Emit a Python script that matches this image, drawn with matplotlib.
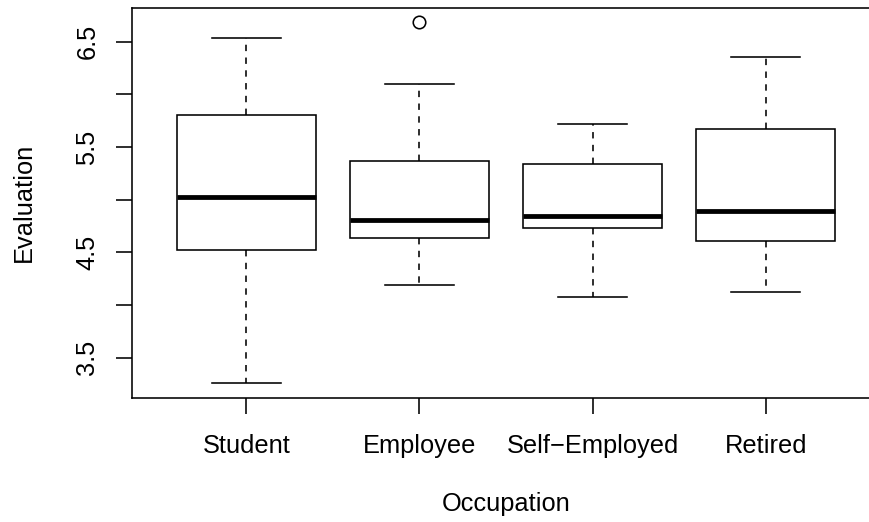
import matplotlib
matplotlib.use("Agg")
import matplotlib.pyplot as plt

# Data
categories = ["Student", "Employee", "Self\u2212Employed", "Retired"]
whislo = [3.258, 4.195, 4.075, 4.129]
q1 = [4.522, 4.638, 4.730, 4.610]
med = [5.028, 4.806, 4.850, 4.895]
q3 = [5.807, 5.366, 5.338, 5.671]
whishi = [6.534, 6.094, 5.718, 6.351]
fliers = [[], [6.683], [], []]
yticks = [3.5, 4.0, 4.5, 5.0, 5.5, 6.0, 6.5]
yticklabels = ["3.5", "", "4.5", "", "5.5", "", "6.5"]

plt.rcParams["font.family"] = ["Liberation Sans", "DejaVu Sans"]
FS = 18.3
LW = 1.15

fig = plt.figure(figsize=(8.69, 5.22), dpi=100)
W, H = 869.0, 522.0
left, right, top, bottom = 132.0, 880.0, 8.0, 397.7
ax = fig.add_axes([left / W, 1 - bottom / H, (right - left) / W, (bottom - top) / H])

stats = []
for i, c in enumerate(categories):
    stats.append(dict(label=c, whislo=whislo[i], q1=q1[i], med=med[i],
                      q3=q3[i], whishi=whishi[i], fliers=fliers[i]))

positions = list(range(1, len(categories) + 1))
ax.bxp(stats, positions=positions, widths=0.8, capwidths=0.4,
       patch_artist=True, showfliers=True,
       boxprops=dict(facecolor="white", edgecolor="black", linewidth=LW),
       medianprops=dict(color="black", linewidth=LW * 3, solid_capstyle="butt"),
       whiskerprops=dict(color="black", linewidth=LW, linestyle=(0, (4, 4))),
       capprops=dict(color="black", linewidth=LW),
       flierprops=dict(marker="o", markerfacecolor="none", markeredgecolor="black",
                       markersize=9, markeredgewidth=LW))

allv = whislo + whishi + [v for f in fliers for v in f]
lo, hi = min(allv), max(allv)
r = hi - lo
ax.set_ylim(lo - 0.04 * r, hi + 0.04 * r)
n = len(categories)
ax.set_xlim(0.5 - 0.04 * n, n + 0.5 + 0.04 * n)

ax.set_yticks(yticks)
ax.set_yticklabels(yticklabels, rotation=90, va="center")
ax.set_xticks(positions)
ax.set_xticklabels(categories)
ax.tick_params(axis="both", which="major", length=11.5, width=LW, labelsize=FS,
               direction="out", color="black")
ax.tick_params(axis="x", pad=14.5)
ax.tick_params(axis="y", pad=12)
for s in ax.spines.values():
    s.set_linewidth(LW)
    s.set_color("black")

ax.set_xlabel("Occupation", fontsize=FS)
ax.xaxis.label.set_va("baseline")
ax.xaxis.set_label_coords(0.5, (bottom - 511.0) / (bottom - top))
ax.set_ylabel("Evaluation", fontsize=FS)
ax.yaxis.label.set_va("center")
ax.yaxis.set_label_coords((23.5 - left) / (right - left), 0.5)

fig.savefig("out.png", dpi=100)
